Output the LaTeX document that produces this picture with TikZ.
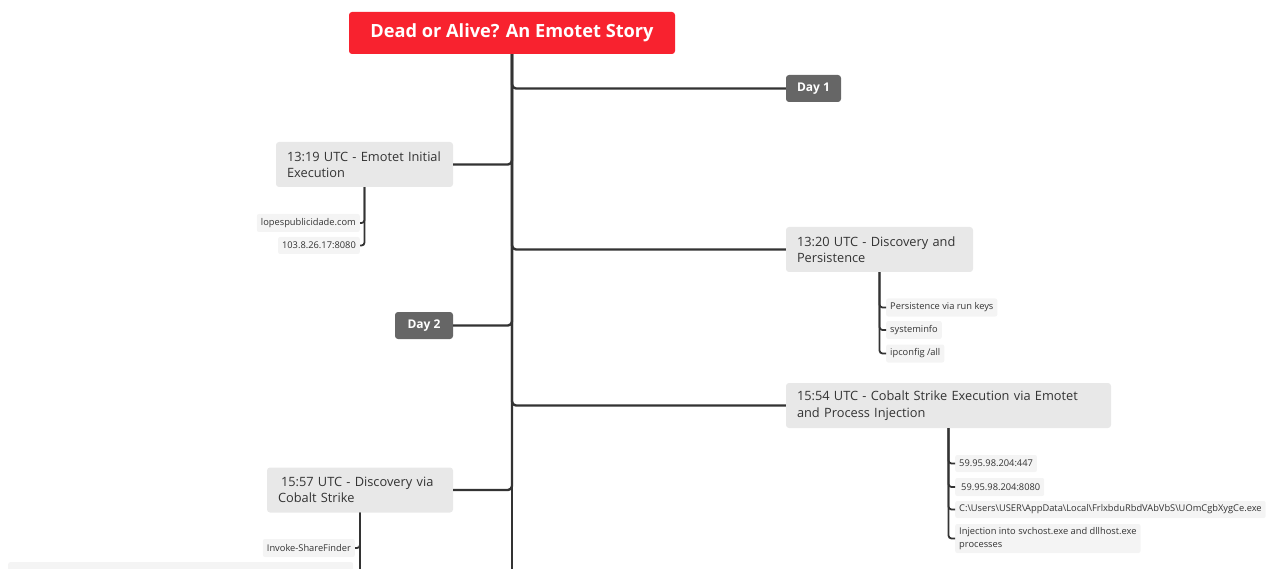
\documentclass[tikz,border=0pt]{standalone}
\usepackage{fontspec}
\setmainfont{Open Sans}
\usetikzlibrary{positioning}
\definecolor{titlered}{HTML}{F8222F}
\definecolor{daygrey}{HTML}{666666}
\definecolor{topicgrey}{HTML}{E8E8E8}
\definecolor{leafgrey}{HTML}{F4F4F4}
\definecolor{linegrey}{HTML}{333333}
\newcommand{\bs}{\textbackslash}
\begin{document}
\begin{tikzpicture}[x=1pt,y=-1pt,
title/.style={fill=titlered,text=white,rounded corners=3pt,font=\fontsize{18.2}{21}\selectfont\bfseries,minimum width=326pt,minimum height=42pt},
day/.style={fill=daygrey,text=white,rounded corners=3pt,font=\fontsize{12}{15}\selectfont\bfseries,minimum height=27pt,inner xsep=0pt},
topic/.style={fill=topicgrey,text=linegrey,rounded corners=3pt,font=\fontsize{12.8}{16.5}\selectfont,align=left,inner xsep=11pt,inner ysep=6pt,minimum height=45pt},
leaf/.style={fill=leafgrey,text=linegrey,rounded corners=2pt,font=\fontsize{9.3}{12.5}\selectfont,inner xsep=4pt,inner ysep=2pt,minimum height=18pt,align=left},
branch/.style={draw=linegrey,line width=2.4pt,rounded corners=4pt},
twig/.style={draw=linegrey,line width=1.8pt,rounded corners=3pt}]
\useasboundingbox (0,0) rectangle (1274,569);
\clip (0,0) rectangle (1274,569);
\node[title] (story) at (512,33) {Dead or Alive? An Emotet Story};
\coordinate (trunkend) at (512,600);
\node[day,minimum width=55pt] (day1) at (813.5,88.5) {Day 1};
\node[day,minimum width=58pt] (day2) at (424,325.5) {Day 2};
\node[topic,text width=155pt] (t1319) at (364.5,164.5) {13:19 UTC - Emotet Initial\\Execution};
\node[topic,text width=165pt] (t1320) at (879.5,249.5) {13:20 UTC - Discovery and\\Persistence};
\node[topic,text width=303pt] (t1554) at (948.5,405.5) {15:54 UTC - Cobalt Strike Execution via Emotet\\and Process Injection};
\node[topic,text width=164pt] (t1557) at (360,490) {\hspace{3pt}15:57 UTC - Discovery via\\Cobalt Strike};
\node[leaf,anchor=east] (lopes) at (360,223) {lopespublicidade.com};
\node[leaf,anchor=east,minimum height=17pt] (ip8080a) at (360,245.5) {103.8.26.17:8080};
\node[leaf,anchor=west] (runkeys) at (886,307.5) {Persistence via run keys};
\node[leaf,anchor=west] (sysinfo) at (886,330) {systeminfo};
\node[leaf,anchor=west] (ipconf) at (886,353.5) {ipconfig /all};
\node[leaf,anchor=west,minimum height=17pt] (ip447) at (955,463.5) {59.95.98.204:447};
\node[leaf,anchor=west] (ip8080b) at (955,487) {\hspace{2pt}59.95.98.204:8080};
\node[leaf,anchor=west,minimum height=17pt] (exepath) at (955,509.5) {C:\bs Users\bs USER\bs AppData\bs Local\bs FrlxbduRbdVAbVbS\bs UOmCgbXygCe.exe};
\node[leaf,anchor=west,minimum height=29pt] (inject) at (955,538.5) {Injection into svchost.exe and dllhost.exe\\processes};
\node[leaf,anchor=east] (sharefind) at (355,548) {Invoke-ShareFinder};
\node[leaf,anchor=north west,minimum width=345pt,minimum height=30pt] (cutleaf) at (8,562) {};
\draw[branch] (story.south) -- (trunkend);
\draw[branch] (story.south) |- (day1.west);
\draw[branch] (story.south) |- (t1319.east);
\draw[branch] (story.south) |- (t1320.west);
\draw[branch] (story.south) |- (day2.east);
\draw[branch] (story.south) |- (t1554.west);
\draw[branch] (story.south) |- (t1557.east);
\draw[twig] (t1319.south) |- (lopes.east);
\draw[twig] (t1319.south) |- (ip8080a.east);
\draw[twig] (t1320.south) |- (runkeys.west);
\draw[twig] (t1320.south) |- (sysinfo.west);
\draw[twig] (t1320.south) |- (ipconf.west);
\draw[twig] (t1554.south) |- (ip447.west);
\draw[twig] (t1554.south) |- (ip8080b.west);
\draw[twig] (t1554.south) |- (exepath.west);
\draw[twig] (t1554.south) |- (inject.west);
\draw[twig] (t1557.south) |- (sharefind.east);
\draw[twig] (t1557.south) |- (cutleaf.east);
\end{tikzpicture}
\end{document}
